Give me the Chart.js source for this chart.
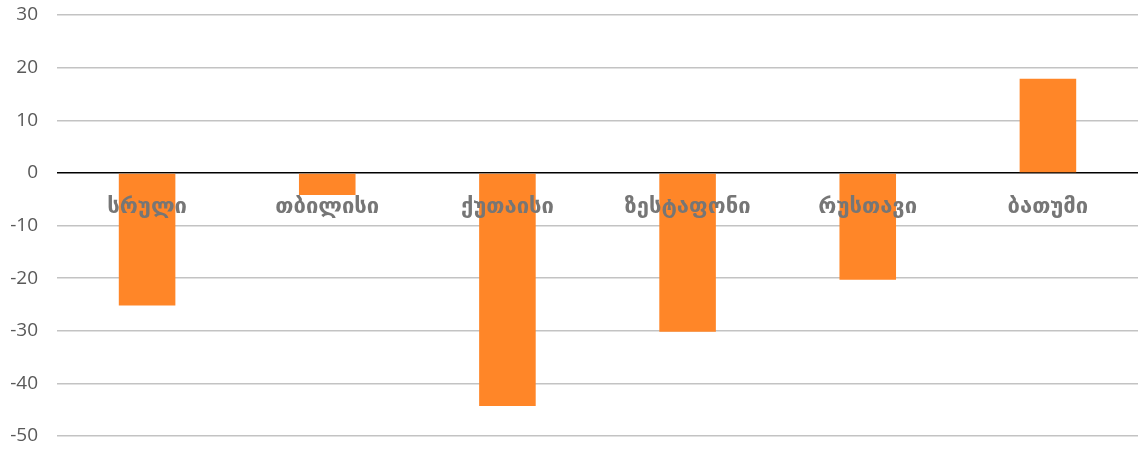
<!DOCTYPE html>
<html>
<head>
<meta charset="utf-8">
<script src="https://cdn.jsdelivr.net/npm/chart.js@4.4.1/dist/chart.umd.min.js"></script>
<style>
    html, body { margin: 0; padding: 0; background: #ffffff; }
    #wrap { width: 1138px; height: 449px; }
</style>
</head>
<body>
<div id="wrap"><canvas id="changeChart"></canvas></div>
<script>
const cities = ['სრული', 'თბილისი', 'ქუთაისი', 'ზესტაფონი', 'რუსთავი', 'ბათუმი'];
const changes = [-25.2, -4.2, -44.3, -30.2, -20.3, 17.9];
const yMin = -50;
const yMax = 30;
const yStep = 10;

// category names sit just under the zero line, drawn over the bars
const zeroLabels = {
    id: 'zeroLabels',
    afterDatasetsDraw(chart) {
        const { ctx, scales: { x, y } } = chart;
        const zeroY = y.getPixelForValue(0);
        ctx.save();
        ctx.font = 'bold 22px "DejaVu Sans"';
        ctx.fillStyle = '#767676';
        ctx.textAlign = 'center';
        ctx.textBaseline = 'middle';
        cities.forEach((city, i) => {
            ctx.fillText(city, x.getPixelForValue(i), zeroY + 34);
        });
        ctx.restore();
    }
};

document.addEventListener("DOMContentLoaded", () => {
    const ctx = document.getElementById('changeChart').getContext('2d');
    new Chart(ctx, {
        type: 'bar',
        data: {
            labels: cities,
            datasets: [{
                data: changes,
                backgroundColor: '#ff8628',
                borderWidth: 0,
                categoryPercentage: 1,
                barPercentage: 0.314
            }]
        },
        options: {
            responsive: true,
            maintainAspectRatio: false,
            animation: false,
            layout: {
                padding: { top: 15, right: 0, bottom: 13, left: 0 }
            },
            plugins: {
                legend: { display: false },
                tooltip: { enabled: false }
            },
            scales: {
                x: {
                    display: false
                },
                y: {
                    min: yMin,
                    max: yMax,
                    afterFit: (scale) => {
                        scale.width = 57;
                        scale.paddingTop = 0;
                        scale.paddingBottom = 0;
                    },
                    border: { display: false },
                    grid: {
                        drawTicks: false,
                        color: (c) => c.tick && c.tick.value === 0 ? '#000000' : '#c3c3c3',
                        lineWidth: 1.5
                    },
                    ticks: {
                        stepSize: yStep,
                        padding: 19,
                        color: '#595959',
                        font: { family: 'Open Sans', size: 19 }
                    }
                }
            }
        },
        plugins: [zeroLabels]
    });
});
</script>
</body>
</html>
